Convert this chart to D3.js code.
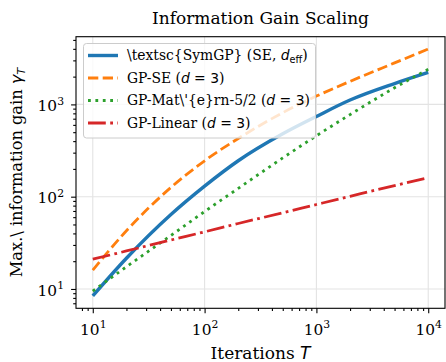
<!DOCTYPE html>
<html>
<head>
<meta charset="utf-8">
<script src="https://cdn.jsdelivr.net/npm/d3@7"></script>
<style>
  html, body { margin: 0; padding: 0; background: #fff; }
  svg { display: block; }
</style>
</head>
<body>
<svg id="chart" width="446" height="362"></svg>
<script>
// data
const iterations = [10, 20, 50, 100, 200, 500, 1000, 2000, 5000, 10000];
const symgpGain = [8.4, 21.5, 64, 130, 245, 480, 740, 1115, 1683, 2220];
const seGain = [16, 42.7, 126, 245, 427, 813, 1230, 1778, 2818, 3980];
const maternGain = [9.5, 17.4, 38, 69, 123, 263, 457, 776, 1514, 2400];
const linearGain = [21, 25.8, 33.9, 41.6, 51.2, 67, 82.3, 101, 132, 160];

const xMajor = [10, 100, 1000, 10000];
const yMajor = [10, 100, 1000];
const xTickLabels = ['1', '2', '3', '4'];
const yTickLabels = ['1', '2', '3'];

const series = [
  {name: 'symgp', values: symgpGain, color: '#1f77b4', width: 3.4, dash: null},
  {name: 'se', values: seGain, color: '#ff7f0e', width: 2.8, dash: '10.3,4.4'},
  {name: 'matern', values: maternGain, color: '#2ca02c', width: 2.8, dash: '2.8,4.6'},
  {name: 'linear', values: linearGain, color: '#d62728', width: 2.8, dash: '17.8,4.4,2.8,4.4'}
];

const margin = {top: 36.7, right: 1, bottom: 53.7, left: 76};
const width = 446, height = 362;
const innerW = width - margin.left - margin.right;
const innerH = height - margin.top - margin.bottom;
const serif = "'DejaVu Serif', serif";
const sans = "'DejaVu Sans', sans-serif";

// matplotlib style 5% margins in log space
function logExtent(vals) {
  const lo = Math.log10(d3.min(vals)), hi = Math.log10(d3.max(vals));
  const pad = (hi - lo) * 0.05;
  return [Math.pow(10, lo - pad), Math.pow(10, hi + pad)];
}

const xScale = d3.scaleLog().domain(logExtent(iterations)).range([0, innerW]);
const yScale = d3.scaleLog()
  .domain(logExtent([].concat(symgpGain, seGain, maternGain, linearGain)))
  .range([innerH, 0]);

const svg = d3.select('#chart');
const g = svg.append('g').attr('transform', `translate(${margin.left},${margin.top})`);

function minorTicks(scale) {
  const [a, b] = scale.domain();
  const out = [];
  for (let e = Math.floor(Math.log10(a)); e <= Math.ceil(Math.log10(b)); e++) {
    for (let k = 2; k <= 9; k++) {
      const v = k * Math.pow(10, e);
      if (v >= a && v <= b) out.push(v);
    }
  }
  return out;
}

// grid
g.append('g').selectAll('line').data(xMajor).join('line')
  .attr('x1', d => xScale(d)).attr('x2', d => xScale(d))
  .attr('y1', 0).attr('y2', innerH)
  .attr('stroke', '#e3e3e3').attr('stroke-width', 1.1);
g.append('g').selectAll('line').data(yMajor).join('line')
  .attr('y1', d => yScale(d)).attr('y2', d => yScale(d))
  .attr('x1', 0).attr('x2', innerW)
  .attr('stroke', '#e3e3e3').attr('stroke-width', 1.1);

// lines
const line = d3.line()
  .x((d, i) => xScale(iterations[i]))
  .y(d => yScale(d))
  .curve(d3.curveMonotoneX);

svg.append('clipPath').attr('id', 'clip')
  .append('rect').attr('width', innerW).attr('height', innerH);

g.append('g').attr('clip-path', 'url(#clip)')
  .selectAll('path').data(series).join('path')
  .attr('d', d => line(d.values))
  .attr('fill', 'none')
  .attr('stroke', d => d.color)
  .attr('stroke-width', d => d.width)
  .attr('stroke-dasharray', d => d.dash);

// axes
function styleAxis(sel) {
  sel.select('.domain').remove();
  sel.selectAll('line').attr('stroke', '#000').attr('stroke-width', 1.1);
}

const xAxis = g.append('g').attr('transform', `translate(0,${innerH})`)
  .call(d3.axisBottom(xScale).tickValues(xMajor).tickSize(4.9).tickFormat(() => ''))
  .call(styleAxis);
g.append('g').attr('transform', `translate(0,${innerH})`)
  .call(d3.axisBottom(xScale).tickValues(minorTicks(xScale)).tickSize(2.8).tickFormat(() => ''))
  .call(styleAxis);
const yAxis = g.append('g')
  .call(d3.axisLeft(yScale).tickValues(yMajor).tickSize(4.9).tickFormat(() => ''))
  .call(styleAxis);
g.append('g')
  .call(d3.axisLeft(yScale).tickValues(minorTicks(yScale)).tickSize(2.8).tickFormat(() => ''))
  .call(styleAxis);

function powerLabel(text, exp) {
  text.text(null);
  text.append('tspan').text('10');
  text.append('tspan').attr('dy', -6.5).attr('font-size', 10.8).text(exp);
}

xAxis.selectAll('.tick text')
  .attr('font-family', serif).attr('font-size', 15.4).attr('fill', '#000')
  .attr('dy', 0).attr('y', 26.5)
  .each(function (d, i) { powerLabel(d3.select(this), xTickLabels[i]); });
yAxis.selectAll('.tick text')
  .attr('font-family', serif).attr('font-size', 15.4).attr('fill', '#000')
  .attr('x', -12).attr('dy', '0.4em')
  .each(function (d, i) { powerLabel(d3.select(this), yTickLabels[i]); });

// frame
g.append('rect').attr('width', innerW).attr('height', innerH)
  .attr('fill', 'none').attr('stroke', '#000').attr('stroke-width', 1.1);

// title and labels
svg.append('text')
  .attr('x', margin.left + innerW / 2).attr('y', 24)
  .attr('text-anchor', 'middle')
  .attr('font-family', serif).attr('font-size', 17)
  .text('Information Gain Scaling');

const xl = svg.append('text')
  .attr('x', margin.left + innerW / 2).attr('y', 358.5)
  .attr('text-anchor', 'middle')
  .attr('font-family', serif).attr('font-size', 17);
xl.append('tspan').text('Iterations ');
xl.append('tspan').attr('font-family', sans).attr('font-style', 'italic').text('T');

const yl = svg.append('text')
  .attr('transform', `translate(22,${margin.top + innerH / 2}) rotate(-90)`)
  .attr('text-anchor', 'middle')
  .attr('font-family', serif).attr('font-size', 16.2);
yl.append('tspan').text('Max.\\ information gain ');
yl.append('tspan').attr('font-family', sans).attr('font-style', 'italic').text('γ');
yl.append('tspan').attr('font-family', sans).attr('font-style', 'italic')
  .attr('font-size', 11.3).attr('dy', 3).text('T');

// legend
const legend = svg.append('g');
legend.append('rect')
  .attr('x', 83.5).attr('y', 43.5).attr('width', 232).attr('height', 94.5)
  .attr('rx', 3).attr('fill', '#fff').attr('fill-opacity', 0.8)
  .attr('stroke', '#cccccc').attr('stroke-width', 1);

const legendLabels = [
  [{t: '\\textsc{SymGP} (SE, '}, {t: 'd', it: true}, {t: 'eff', sub: true}, {t: ')'}],
  [{t: 'GP-SE ('}, {t: 'd', it: true}, {t: ' = 3', math: true}, {t: ')'}],
  [{t: "GP-Mat\\'{e}rn-5/2 ("}, {t: 'd', it: true}, {t: ' = 3', math: true}, {t: ')'}],
  [{t: 'GP-Linear ('}, {t: 'd', it: true}, {t: ' = 3', math: true}, {t: ')'}]
];

const rowY = [55.5, 78, 100.5, 123];
series.forEach((s, i) => {
  legend.append('line')
    .attr('x1', 88).attr('x2', 118).attr('y1', rowY[i]).attr('y2', rowY[i])
    .attr('stroke', s.color).attr('stroke-width', s.width)
    .attr('stroke-dasharray', s.dash);
  const t = legend.append('text')
    .attr('x', 127).attr('y', rowY[i]).attr('dy', '0.35em')
    .attr('font-family', serif).attr('font-size', 13.9);
  legendLabels[i].forEach(p => {
    const sp = t.append('tspan').text(p.t);
    if (p.it) sp.attr('font-family', sans).attr('font-style', 'italic');
    if (p.math) sp.attr('font-family', sans);
    if (p.sub) sp.attr('font-family', sans).attr('font-size', 9.7).attr('dy', 3);
    if (p.t === ')' && legendLabels[i].some(q => q.sub)) sp.attr('dy', -3);
  });
});
</script>
</body>
</html>
